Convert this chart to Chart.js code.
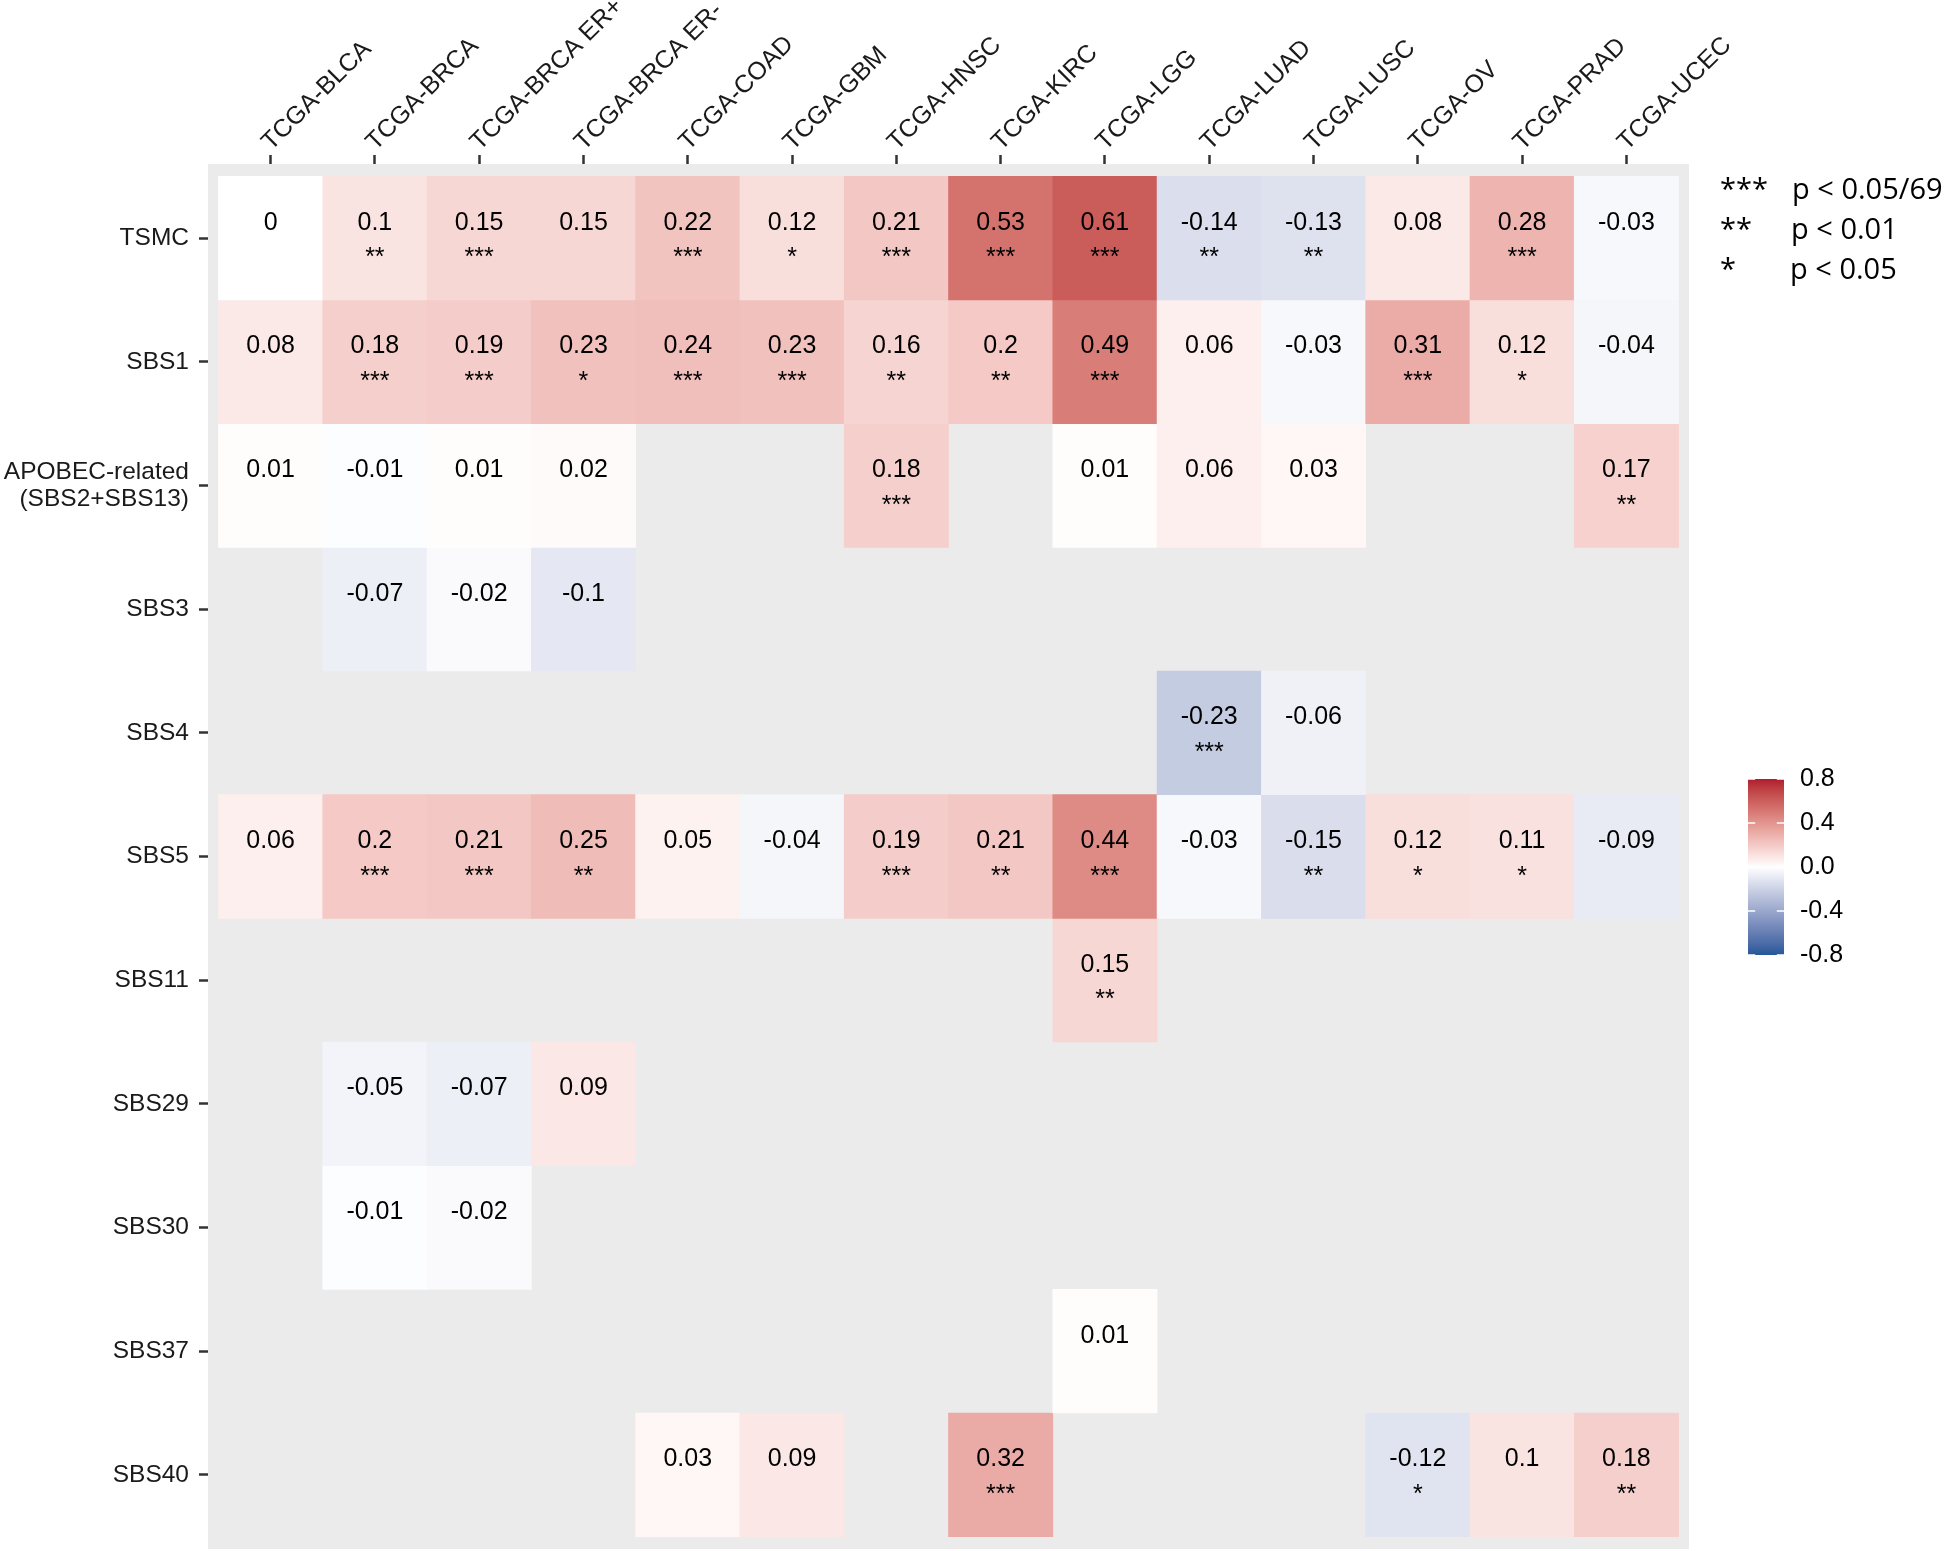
<!DOCTYPE html>
<html>
<head>
<meta charset="utf-8">
<title>Signature correlation heatmap</title>
<script src="https://cdn.jsdelivr.net/npm/chart.js@4.4.1/dist/chart.umd.min.js"></script>
<style>
  html, body { margin: 0; padding: 0; background: #fff; }
  #wrap { width: 1951px; height: 1551px; }
</style>
</head>
<body>
<div id="wrap"><canvas id="heat" width="1951" height="1551"></canvas></div>
<script>
const cancerTypes = ["TCGA-BLCA", "TCGA-BRCA", "TCGA-BRCA ER+", "TCGA-BRCA ER-", "TCGA-COAD", "TCGA-GBM", "TCGA-HNSC",
  "TCGA-KIRC", "TCGA-LGG", "TCGA-LUAD", "TCGA-LUSC", "TCGA-OV", "TCGA-PRAD", "TCGA-UCEC"];
const signatures = ["TSMC", "SBS1", ["APOBEC-related", "(SBS2+SBS13)"], "SBS3", "SBS4", "SBS5", "SBS11",
  "SBS29", "SBS30", "SBS37", "SBS40"];

// correlation for each signature, one entry per cancer type (null = not tested)
const tsmc   = [0, 0.1, 0.15, 0.15, 0.22, 0.12, 0.21, 0.53, 0.61, -0.14, -0.13, 0.08, 0.28, -0.03];
const sbs1   = [0.08, 0.18, 0.19, 0.23, 0.24, 0.23, 0.16, 0.2, 0.49, 0.06, -0.03, 0.31, 0.12, -0.04];
const apobec = [0.01, -0.01, 0.01, 0.02, null, null, 0.18, null, 0.01, 0.06, 0.03, null, null, 0.17];
const sbs3   = [null, -0.07, -0.02, -0.1, null, null, null, null, null, null, null, null, null, null];
const sbs4   = [null, null, null, null, null, null, null, null, null, -0.23, -0.06, null, null, null];
const sbs5   = [0.06, 0.2, 0.21, 0.25, 0.05, -0.04, 0.19, 0.21, 0.44, -0.03, -0.15, 0.12, 0.11, -0.09];
const sbs11  = [null, null, null, null, null, null, null, null, 0.15, null, null, null, null, null];
const sbs29  = [null, -0.05, -0.07, 0.09, null, null, null, null, null, null, null, null, null, null];
const sbs30  = [null, -0.01, -0.02, null, null, null, null, null, null, null, null, null, null, null];
const sbs37  = [null, null, null, null, null, null, null, null, 0.01, null, null, null, null, null];
const sbs40  = [null, null, null, null, 0.03, 0.09, null, 0.32, null, null, null, -0.12, 0.1, 0.18];

// significance marks, same layout
const tsmcStars   = ["", "**", "***", "", "***", "*", "***", "***", "***", "**", "**", "", "***", ""];
const sbs1Stars   = ["", "***", "***", "*", "***", "***", "**", "**", "***", "", "", "***", "*", ""];
const apobecStars = ["", "", "", "", "", "", "***", "", "", "", "", "", "", "**"];
const sbs3Stars   = ["", "", "", "", "", "", "", "", "", "", "", "", "", ""];
const sbs4Stars   = ["", "", "", "", "", "", "", "", "", "***", "", "", "", ""];
const sbs5Stars   = ["", "***", "***", "**", "", "", "***", "**", "***", "", "**", "*", "*", ""];
const sbs11Stars  = ["", "", "", "", "", "", "", "", "**", "", "", "", "", ""];
const sbs29Stars  = ["", "", "", "", "", "", "", "", "", "", "", "", "", ""];
const sbs30Stars  = ["", "", "", "", "", "", "", "", "", "", "", "", "", ""];
const sbs37Stars  = ["", "", "", "", "", "", "", "", "", "", "", "", "", ""];
const sbs40Stars  = ["", "", "", "", "", "", "", "***", "", "", "", "*", "", "**"];

const legendBreaks = [0.8, 0.4, 0.0, -0.4, -0.8];
const pMarks = ["***", "**", "*"];
const pLabels = ["p < 0.05/69", "p < 0.01", "p < 0.05"];

const rowValues = [tsmc, sbs1, apobec, sbs3, sbs4, sbs5, sbs11, sbs29, sbs30, sbs37, sbs40];
const rowStars = [tsmcStars, sbs1Stars, apobecStars, sbs3Stars, sbs4Stars, sbs5Stars, sbs11Stars,
  sbs29Stars, sbs30Stars, sbs37Stars, sbs40Stars];

const LOW = "#24589A";
const HIGH = "#B01C2E";
const LIMIT = 0.8;
const AXIS_FONT = '"Liberation Sans", Arial, sans-serif';

// gradient2-like colour mapping, interpolated in Lab space like ggplot
function hexToRgb(h) {
  return [1, 3, 5].map((i) => parseInt(h.slice(i, i + 2), 16));
}
function toLinear(c) {
  c /= 255;
  return c <= 0.04045 ? c / 12.92 : Math.pow((c + 0.055) / 1.055, 2.4);
}
function fromLinear(c) {
  const v = c <= 0.0031308 ? 12.92 * c : 1.055 * Math.pow(c, 1 / 2.4) - 0.055;
  return Math.round(Math.min(1, Math.max(0, v)) * 255);
}
function rgbToLab(rgb) {
  const [r, g, b] = rgb.map(toLinear);
  const X = (0.4124 * r + 0.3576 * g + 0.1805 * b) / 0.95047;
  const Y = 0.2126 * r + 0.7152 * g + 0.0722 * b;
  const Z = (0.0193 * r + 0.1192 * g + 0.9505 * b) / 1.08883;
  const f = (t) => (t > 0.008856 ? Math.cbrt(t) : 7.787 * t + 16 / 116);
  return [116 * f(Y) - 16, 500 * (f(X) - f(Y)), 200 * (f(Y) - f(Z))];
}
function labToRgb([L, a, b]) {
  const fy = (L + 16) / 116;
  const fx = fy + a / 500;
  const fz = fy - b / 200;
  const inv = (t) => (t * t * t > 0.008856 ? t * t * t : (t - 16 / 116) / 7.787);
  const X = inv(fx) * 0.95047, Y = inv(fy), Z = inv(fz) * 1.08883;
  const r = 3.2406 * X - 1.5372 * Y - 0.4986 * Z;
  const g = -0.9689 * X + 1.8758 * Y + 0.0415 * Z;
  const bl = 0.0557 * X - 0.204 * Y + 1.057 * Z;
  return [r, g, bl].map(fromLinear);
}
const lowLab = rgbToLab(hexToRgb(LOW));
const midLab = rgbToLab([255, 255, 255]);
const highLab = rgbToLab(hexToRgb(HIGH));

function fillColor(v) {
  const t = Math.max(-1, Math.min(1, v / LIMIT));
  const end = t >= 0 ? highLab : lowLab;
  const lab = midLab.map((m, i) => m + Math.abs(t) * (end[i] - m));
  const [r, g, b] = labToRgb(lab);
  return `rgb(${r}, ${g}, ${b})`;
}

const datasets = rowValues.map((vals, r) => ({
  label: [].concat(signatures[r]).join(" "),
  data: vals
    .map((v, c) => (v === null ? null : { x: c, y: [r - 0.5, r + 0.5], v: v }))
    .filter((d) => d !== null),
  backgroundColor: (ctx) => (ctx.raw ? fillColor(ctx.raw.v) : "#fff"),
  borderWidth: 0,
  barPercentage: 1,
  categoryPercentage: 1,
  grouped: false,
}));

const panelBackground = {
  id: "panelBackground",
  beforeDraw(chart) {
    const { ctx, chartArea: a } = chart;
    ctx.save();
    ctx.fillStyle = "#EBEBEB";
    ctx.fillRect(a.left, a.top, a.right - a.left, a.bottom - a.top);
    ctx.restore();
  },
};

const cellText = {
  id: "cellText",
  afterDatasetsDraw(chart) {
    const { ctx } = chart;
    const x = chart.scales.x;
    const y = chart.scales.y;
    ctx.save();
    ctx.fillStyle = "#000";
    ctx.textAlign = "center";
    ctx.textBaseline = "alphabetic";
    ctx.font = `25px ${AXIS_FONT}`;
    rowValues.forEach((vals, r) => {
      vals.forEach((v, c) => {
        if (v === null) return;
        const cx = x.getPixelForValue(c);
        const cy = y.getPixelForValue(r);
        ctx.fillText(String(v), cx, cy - 8.5);
        if (rowStars[r][c]) ctx.fillText(rowStars[r][c], cx, cy + 27);
      });
    });
    ctx.restore();
  },
};

const legends = {
  id: "legends",
  afterDraw(chart) {
    const { ctx } = chart;
    ctx.save();

    // colour bar
    const left = 1748, right = 1784, top = 779, bottom = 955;
    const grad = ctx.createLinearGradient(0, top, 0, bottom);
    for (let i = 0; i <= 40; i++) {
      grad.addColorStop(i / 40, fillColor(LIMIT - (2 * LIMIT * i) / 40));
    }
    ctx.fillStyle = grad;
    ctx.fillRect(left, top, right - left, bottom - top);

    const yFor = (v) => bottom - ((v + LIMIT) / (2 * LIMIT)) * (bottom - top);
    ctx.strokeStyle = "#fff";
    ctx.lineWidth = 1.5;
    const tick = (right - left) / 5;
    legendBreaks.forEach((b) => {
      const yy = yFor(b);
      ctx.beginPath();
      ctx.moveTo(left, yy);
      ctx.lineTo(left + tick, yy);
      ctx.moveTo(right - tick, yy);
      ctx.lineTo(right, yy);
      ctx.stroke();
    });

    ctx.fillStyle = "#000";
    ctx.font = `25px ${AXIS_FONT}`;
    ctx.textAlign = "left";
    ctx.textBaseline = "middle";
    legendBreaks.forEach((b) => {
      ctx.fillText(b.toFixed(1), 1800, yFor(b));
    });

    // significance key
    ctx.font = '29px "Open Sans", sans-serif';
    ctx.textBaseline = "alphabetic";
    pMarks.forEach((m, i) => {
      const base = 199 + i * 40;
      ctx.fillText(m, 1720, base);
      ctx.fillText(pLabels[i], 1792 - i, base);
    });

    ctx.restore();
  },
};

new Chart(document.getElementById("heat"), {
  type: "bar",
  data: { datasets: datasets },
  plugins: [panelBackground, cellText, legends],
  options: {
    responsive: false,
    animation: false,
    layout: { padding: { left: 0, top: 0, right: 262, bottom: 2 } },
    plugins: {
      legend: { display: false },
      tooltip: { enabled: false },
    },
    scales: {
      x: {
        type: "linear",
        position: "top",
        min: -0.6,
        max: 13.6,
        bounds: "data",
        offset: false,
        afterBuildTicks: (s) => {
          s.ticks = cancerTypes.map((_, i) => ({ value: i }));
        },
        afterFit: (s) => {
          s.height = 164;
          s.paddingLeft = 0;
          s.paddingRight = 0;
        },
        grid: {
          offset: false,
          drawOnChartArea: false,
          tickLength: 9,
          tickColor: "#333333",
          tickWidth: 2.5,
        },
        border: { display: false },
        ticks: {
          autoSkip: false,
          minRotation: 45,
          maxRotation: 45,
          padding: -2,
          labelOffset: 17,
          color: "#1a1a1a",
          font: { family: AXIS_FONT, size: 25, lineHeight: 1.2 },
          callback: (v) => cancerTypes[Math.round(v)],
        },
      },
      y: {
        type: "linear",
        position: "left",
        reverse: true,
        min: -0.6,
        max: 10.6,
        bounds: "data",
        offset: false,
        afterBuildTicks: (s) => {
          s.ticks = signatures.map((_, i) => ({ value: i }));
        },
        afterFit: (s) => {
          s.width = 208;
          s.paddingTop = 0;
          s.paddingBottom = 0;
        },
        grid: {
          drawOnChartArea: false,
          tickLength: 9,
          tickColor: "#333333",
          tickWidth: 2.5,
        },
        border: { display: false },
        ticks: {
          autoSkip: false,
          padding: 10,
          color: "#1a1a1a",
          font: { family: AXIS_FONT, size: 24.5, lineHeight: 1.1 },
          callback: (v) => signatures[Math.round(v)],
        },
      },
    },
  },
});
</script>
</body>
</html>
